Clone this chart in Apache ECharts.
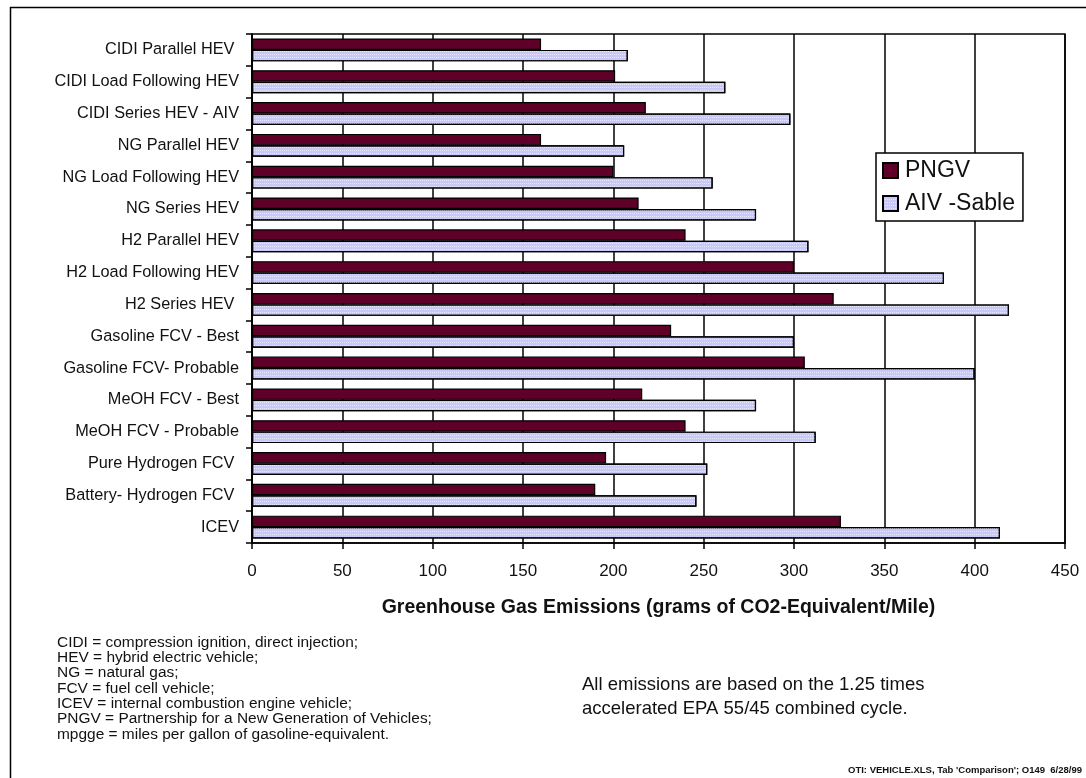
<!DOCTYPE html>
<html>
<head>
<meta charset="utf-8">
<script src="https://cdn.jsdelivr.net/npm/echarts@6/dist/echarts.min.js"></script>
<style>
html,body{margin:0;padding:0;background:#fff;}
#chart{width:1086px;height:778px;}
</style>
</head>
<body>
<div id="chart"></div>
<script>
const categories = [
  'CIDI Parallel HEV ',
  'CIDI Load Following HEV',
  'CIDI Series HEV - AIV',
  'NG Parallel HEV',
  'NG Load Following HEV',
  'NG Series HEV',
  'H2 Parallel HEV',
  'H2 Load Following HEV',
  'H2 Series HEV ',
  'Gasoline FCV - Best',
  'Gasoline FCV- Probable',
  'MeOH FCV - Best',
  'MeOH FCV - Probable',
  'Pure Hydrogen FCV ',
  'Battery- Hydrogen FCV ',
  'ICEV'
];
const pngvValues = [160, 201, 218, 160, 200, 214, 240, 300, 322, 232, 306, 216, 240, 196, 190, 326];
const aivValues  = [208, 262, 298, 206, 255, 279, 308, 383, 419, 300, 400, 279, 312, 252, 246, 414];
const seriesNames = ['PNGV', 'AIV -Sable'];
const xAxisTitle = 'Greenhouse Gas Emissions (grams of CO2-Equivalent/Mile)';
const abbreviations = [
  'CIDI = compression ignition, direct injection;',
  'HEV = hybrid electric vehicle;',
  'NG = natural gas;',
  'FCV = fuel cell vehicle;',
  'ICEV = internal combustion engine vehicle;',
  'PNGV = Partnership for a New Generation of Vehicles;',
  'mpgge = miles per gallon of gasoline-equivalent.'
];
const cycleNote = ['All emissions are based on the 1.25 times', 'accelerated EPA 55/45 combined cycle.'];
const sourceNote = "OTI: VEHICLE.XLS, Tab 'Comparison'; O149  6/28/99";

const FONT = '"Liberation Sans", Arial, sans-serif';
const chart = echarts.init(document.getElementById('chart'), null, {renderer: 'canvas'});

const graphics = [
  {type: 'rect', left: 8, top: 5, z: -10, silent: true,
   shape: {x: 0.5, y: 0.5, width: 1100, height: 800},
   style: {fill: 'none', stroke: '#000', lineWidth: 1.5}}
];
abbreviations.forEach((t, i) => {
  graphics.push({type: 'text', x: 57, y: 636 + i * 15.3, scaleX: 1.12,
    style: {text: t, font: '13.8px ' + FONT, fill: '#111'}});
});
cycleNote.forEach((t, i) => {
  graphics.push({type: 'text', left: 582, top: 675 + i * 24,
    style: {text: t, font: '18.5px ' + FONT, fill: '#111'}});
});
graphics.push({type: 'text', left: 848, top: 765,
  style: {text: sourceNote, font: 'bold 9.5px ' + FONT, fill: '#111'}});

chart.setOption({
  animation: false,
  backgroundColor: '#fff',
  textStyle: {fontFamily: FONT},
  grid: {left: 252, right: 21, top: 34, bottom: 235, show: true,
         borderColor: '#000', borderWidth: 1.5, backgroundColor: 'transparent'},
  legend: {
    orient: 'vertical', left: 876, top: 153,
    backgroundColor: '#fff', borderColor: '#000', borderWidth: 1.5,
    padding: [6, 8, 6, 6], itemGap: 10,
    itemWidth: 15, itemHeight: 15, icon: 'rect',
    textStyle: {fontSize: 23, color: '#111', fontFamily: FONT, padding: [0, 0, 0, 2]},
    data: seriesNames
  },
  xAxis: {
    type: 'value', min: 0, max: 450, interval: 50,
    name: xAxisTitle, nameLocation: 'middle', nameGap: 55,
    nameTextStyle: {fontSize: 19.5, fontWeight: 'bold', color: '#111', fontFamily: FONT},
    axisLine: {show: true, lineStyle: {color: '#000', width: 1.5}},
    axisTick: {show: true, length: 6, lineStyle: {color: '#000', width: 1.5}},
    axisLabel: {fontSize: 17, color: '#111', margin: 20, fontFamily: FONT},
    splitLine: {show: true, lineStyle: {color: '#000', width: 1.5}}
  },
  yAxis: {
    type: 'category', data: categories, inverse: true,
    axisLine: {show: true, lineStyle: {color: '#000', width: 1.5}},
    axisTick: {show: true, length: 6, lineStyle: {color: '#000', width: 1.5}},
    axisLabel: {fontSize: 16.3, color: '#111', margin: 13, fontFamily: FONT},
    splitLine: {show: false}
  },
  series: [
    {name: seriesNames[0], type: 'bar', data: pngvValues,
     barGap: '0%', barCategoryGap: '28%',
     itemStyle: {color: '#5e0027', borderColor: '#000', borderWidth: 1.2}},
    {name: seriesNames[1], type: 'bar', data: aivValues,
     barGap: '0%', barCategoryGap: '28%',
     itemStyle: {color: '#c9c9f7', borderColor: '#000', borderWidth: 1.2,
       decal: {symbol: 'rect', symbolSize: 1, color: 'rgba(255,255,255,0.55)',
               dashArrayX: [1, 1], dashArrayY: [1, 2], rotation: 0}}}
  ],
  graphic: graphics
});
</script>
</body>
</html>
